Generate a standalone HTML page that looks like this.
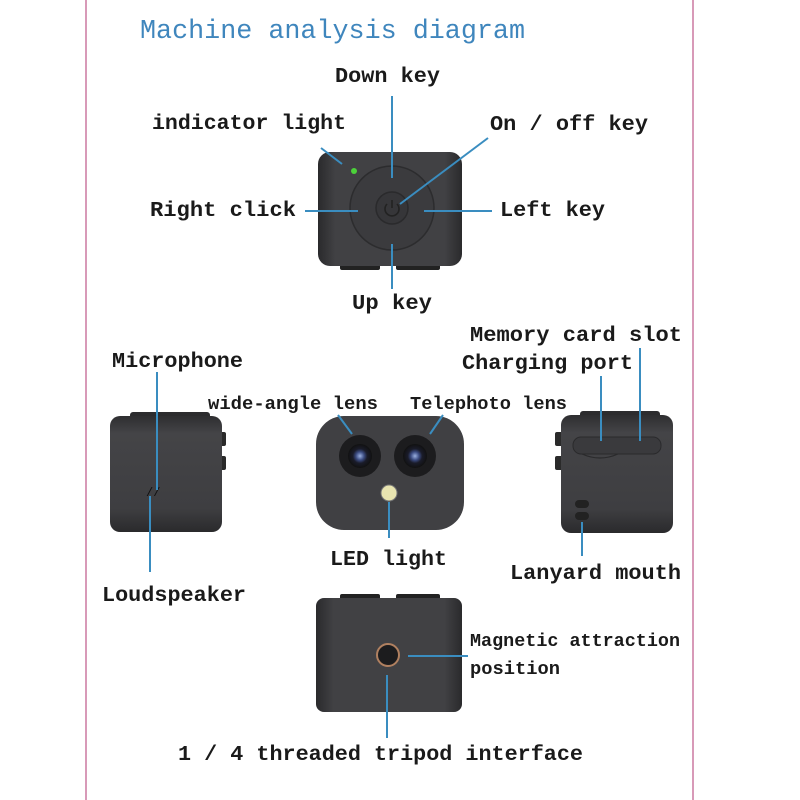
<!DOCTYPE html>
<html><head><meta charset="utf-8"><style>
html,body{margin:0;padding:0;background:#fff;}
svg{display:block}
text{font-family:"Liberation Mono",monospace;fill:#1a1a1a;}
.l text{font-weight:bold;}
</style></head><body>
<svg width="800" height="800" viewBox="0 0 800 800" xmlns="http://www.w3.org/2000/svg">
<defs>
<linearGradient id="body" x1="0" x2="1" y1="0" y2="0">
<stop offset="0" stop-color="#2a2a2c"/><stop offset="0.12" stop-color="#414144"/><stop offset="0.88" stop-color="#414144"/><stop offset="1" stop-color="#2a2a2c"/>
</linearGradient>
<linearGradient id="side" x1="0" x2="0" y1="0" y2="1">
<stop offset="0" stop-color="#2e2e30"/><stop offset="0.15" stop-color="#444447"/><stop offset="0.8" stop-color="#3e3e41"/><stop offset="1" stop-color="#2a2a2c"/>
</linearGradient>
<radialGradient id="lens"><stop offset="0" stop-color="#9ab0e0"/><stop offset="0.35" stop-color="#3a4a80"/><stop offset="0.6" stop-color="#1a1c2a"/><stop offset="1" stop-color="#111"/></radialGradient>
</defs>
<rect width="800" height="800" fill="#fff"/>
<line x1="86" y1="0" x2="86" y2="800" stroke="#d89ab8" stroke-width="2"/>
<line x1="693" y1="0" x2="693" y2="800" stroke="#d89ab8" stroke-width="2"/>

<text x="140" y="38" font-size="27" textLength="385" lengthAdjust="spacingAndGlyphs" style="fill:#3f86bd">Machine analysis diagram</text>

<!-- top device -->
<rect x="340" y="262" width="40" height="8" rx="2" fill="#222"/>
<rect x="396" y="262" width="44" height="8" rx="2" fill="#222"/>
<rect x="318" y="152" width="144" height="114" rx="12" fill="url(#body)"/>
<circle cx="392" cy="208" r="42" fill="#3b3b3e" stroke="#2c2c2e" stroke-width="1.5"/>
<circle cx="392" cy="208" r="16" fill="#363639" stroke="#2a2a2c" stroke-width="1.5"/>
<path d="M387 204 a7 7 0 1 0 10 0" fill="none" stroke="#222" stroke-width="1.6"/>
<line x1="392" y1="200" x2="392" y2="208" stroke="#222" stroke-width="1.6"/>
<circle cx="354" cy="171" r="3" fill="#4cd23a"/>

<!-- left side device -->
<rect x="218" y="432" width="8" height="14" rx="2" fill="#2a2a2a"/>
<rect x="218" y="456" width="8" height="14" rx="2" fill="#2a2a2a"/>
<rect x="130" y="412" width="80" height="8" rx="3" fill="#2c2c2e"/>
<rect x="110" y="416" width="112" height="116" rx="10" fill="url(#side)"/>
<text x="146" y="496" font-size="12" style="fill:#111">//</text>

<!-- front device -->
<rect x="316" y="416" width="148" height="114" rx="28" fill="#404043"/>
<circle cx="360" cy="456" r="21" fill="#1c1c1e"/>
<circle cx="360" cy="456" r="12" fill="url(#lens)"/>
<circle cx="415" cy="456" r="21" fill="#1c1c1e"/>
<circle cx="415" cy="456" r="12" fill="url(#lens)"/>
<circle cx="389" cy="493" r="8" fill="#e8e4b0" stroke="#777" stroke-width="1"/>

<!-- right side device -->
<rect x="555" y="432" width="8" height="14" rx="2" fill="#2a2a2a"/>
<rect x="555" y="456" width="8" height="14" rx="2" fill="#2a2a2a"/>
<rect x="580" y="411" width="80" height="8" rx="3" fill="#2c2c2e"/>
<rect x="561" y="415" width="112" height="118" rx="10" fill="url(#side)"/>
<rect x="573" y="437" width="88" height="17" rx="8" fill="#3a3a3d" stroke="#2a2a2c" stroke-width="1"/>
<path d="M582 454 q18 8 36 0" fill="none" stroke="#2a2a2c" stroke-width="1.2"/>
<rect x="575" y="500" width="14" height="8" rx="4" fill="#222"/>
<rect x="575" y="512" width="14" height="8" rx="4" fill="#222"/>

<!-- bottom device -->
<rect x="340" y="594" width="40" height="8" rx="2" fill="#222"/>
<rect x="396" y="594" width="44" height="8" rx="2" fill="#222"/>
<rect x="316" y="598" width="146" height="114" rx="8" fill="url(#body)"/>
<circle cx="388" cy="655" r="11" fill="#1c1c1e" stroke="#b08060" stroke-width="2"/>

<!-- connectors -->
<g stroke="#3a8dc0" stroke-width="2" fill="none">
<line x1="392" y1="96" x2="392" y2="178"/>
<line x1="321" y1="148" x2="342" y2="164"/>
<line x1="488" y1="138" x2="400" y2="204"/>
<line x1="305" y1="211" x2="358" y2="211"/>
<line x1="424" y1="211" x2="492" y2="211"/>
<line x1="392" y1="244" x2="392" y2="289"/>
<line x1="157" y1="372" x2="157" y2="490"/>
<line x1="150" y1="496" x2="150" y2="572"/>
<line x1="338" y1="415" x2="352" y2="434"/>
<line x1="443" y1="415" x2="430" y2="434"/>
<line x1="389" y1="502" x2="389" y2="538"/>
<line x1="640" y1="348" x2="640" y2="441"/>
<line x1="601" y1="376" x2="601" y2="441"/>
<line x1="582" y1="522" x2="582" y2="556"/>
<line x1="408" y1="656" x2="468" y2="656"/>
<line x1="387" y1="675" x2="387" y2="738"/>
</g>

<!-- labels -->
<g font-size="21" class="l">
<text x="335" y="82" textLength="105" lengthAdjust="spacingAndGlyphs">Down key</text>
<text x="152" y="129" textLength="194" lengthAdjust="spacingAndGlyphs">indicator light</text>
<text x="490" y="130" textLength="158" lengthAdjust="spacingAndGlyphs">On / off key</text>
<text x="150" y="216" textLength="146" lengthAdjust="spacingAndGlyphs">Right click</text>
<text x="500" y="216" textLength="105" lengthAdjust="spacingAndGlyphs">Left key</text>
<text x="352" y="309" textLength="80" lengthAdjust="spacingAndGlyphs">Up key</text>
<text x="470" y="341" textLength="212" lengthAdjust="spacingAndGlyphs">Memory card slot</text>
<text x="462" y="369" textLength="171" lengthAdjust="spacingAndGlyphs">Charging port</text>
<text x="112" y="367" textLength="131" lengthAdjust="spacingAndGlyphs">Microphone</text>
<text x="330" y="565" textLength="117" lengthAdjust="spacingAndGlyphs">LED light</text>
<text x="510" y="579" textLength="171" lengthAdjust="spacingAndGlyphs">Lanyard mouth</text>
<text x="102" y="601" textLength="144" lengthAdjust="spacingAndGlyphs">Loudspeaker</text>
<text x="178" y="760" textLength="405" lengthAdjust="spacingAndGlyphs">1 / 4 threaded tripod interface</text>
</g>
<g font-size="18" class="l">
<text x="208" y="409" textLength="170" lengthAdjust="spacingAndGlyphs">wide-angle lens</text>
<text x="410" y="409" textLength="157" lengthAdjust="spacingAndGlyphs">Telephoto lens</text>
<text x="470" y="646" textLength="210" lengthAdjust="spacingAndGlyphs">Magnetic attraction</text>
<text x="470" y="674" textLength="90" lengthAdjust="spacingAndGlyphs">position</text>
</g>
</svg>
</body></html>
